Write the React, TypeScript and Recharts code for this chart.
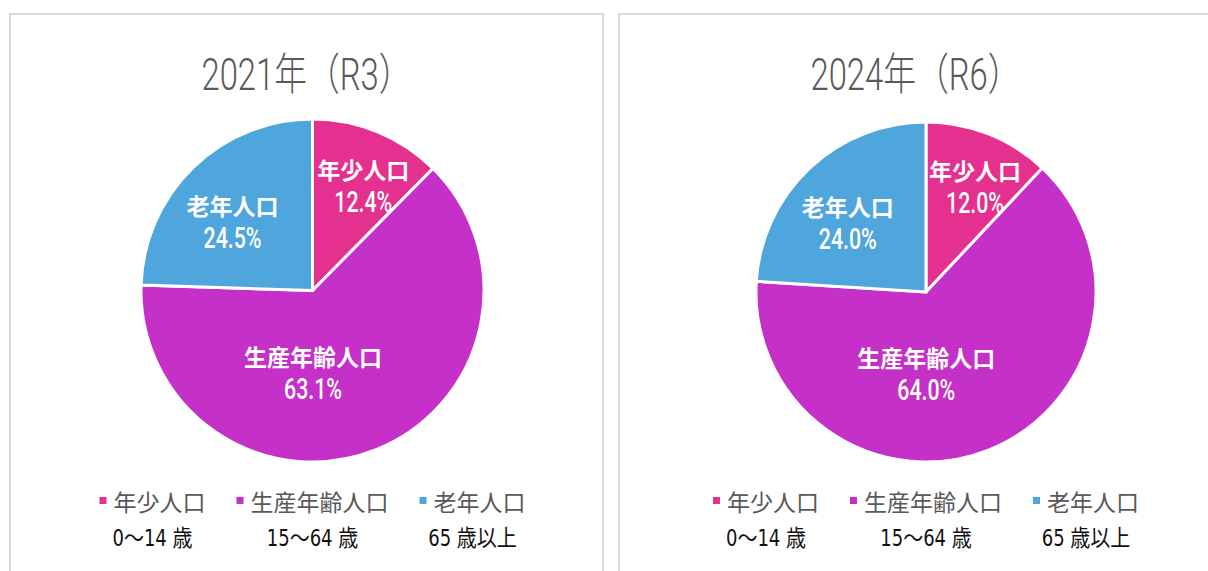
import React from 'react';
import { PieChart, Pie, Cell } from 'recharts';

// ---- data ----
const categories = ['年少人口', '生産年齢人口', '老年人口'];
const ageRanges = ['0～14 歳', '15～64 歳', '65 歳以上'];
const titles = ['2021年（R3）', '2024年（R6）'];
const values2021 = [12.4, 63.1, 24.5];
const values2024 = [12.0, 64.0, 24.0];

// ---- style ----
const colors = ['#E4308E', '#C430C8', '#4FA6DC'];
const CJK = '"Noto Sans CJK JP", "Noto Sans CJK SC", sans-serif';
const NARROW = '"Liberation Sans Narrow", "DejaVu Sans Condensed", "Noto Sans CJK JP", sans-serif';
const THIN = 'Roboto, "Noto Sans CJK JP", sans-serif';
const labelRadiusFrac = [0.68, 0.48, 0.615];
const labelAngleShift = [-3.5, -21.4, 5.2];
const RAD = Math.PI / 180;

const panels = [
  { title: titles[0], values: values2021, left: 9, cx: 312.5, cy: 290.5, r: 171.5 },
  { title: titles[1], values: values2024, left: 618, cx: 926, cy: 292, r: 170 },
];
const panelWidth = 595;

const buildData = (values: number[]) =>
  categories.map((name, i) => ({ name, value: values[i] }));

const renderLabel = (props: any) => {
  const { cx, cy, midAngle, outerRadius, index } = props;
  const name = props.payload?.name ?? props.name;
  const value = props.payload?.value ?? props.value;
  const a = (midAngle + labelAngleShift[index]) * RAD;
  const r = outerRadius * labelRadiusFrac[index];
  const x = cx + r * Math.cos(a);
  const y = cy - r * Math.sin(a);
  return (
    <g>
      <text x={x} y={y - 7} textAnchor="middle" fill="#fff" fontSize={23} fontWeight="bold" fontFamily={CJK}>
        {name}
      </text>
      <text
        x={x}
        y={y + 26}
        textAnchor="middle"
        fill="#fff"
        fontSize={30}
        fontWeight={500}
        fontFamily={THIN}
        textLength={58}
        lengthAdjust="spacingAndGlyphs"
      >
        {Number(value).toFixed(1)}%
      </text>
    </g>
  );
};

const LEG_FONT = 23;
const MARK = 7;
const MARK_GAP = 7;
const ITEM_GAP = 31;

function Legend2({ cx }: { cx: number }) {
  const widths = categories.map((c) => MARK + MARK_GAP + c.length * LEG_FONT);
  const total = widths.reduce((a, b) => a + b, 0) + ITEM_GAP * (categories.length - 1);
  let x = cx - total / 2;
  return (
    <g>
      {categories.map((c, i) => {
        const x0 = x;
        x += widths[i] + ITEM_GAP;
        return (
          <g key={c}>
            <rect x={x0} y={497} width={MARK} height={MARK} fill={colors[i]} />
            <text x={x0 + MARK + MARK_GAP} y={510.5} fontSize={LEG_FONT} fill="#595959" fontFamily={CJK}>
              {c}
            </text>
            <text
              transform={`translate(${x0 + widths[i] / 2}, 546) scale(0.87, 1)`}
              x={0}
              y={0}
              fontSize={23}
              fill="#111"
              fontFamily={NARROW}
              textAnchor="middle"
            >
              {ageRanges[i]}
            </text>
          </g>
        );
      })}
    </g>
  );
}

export default function App() {
  return (
    <div style={{ position: 'absolute', left: 0, top: 0, width: 1208, height: 571, overflow: 'hidden', background: '#fff' }}>
      {panels.map((p) => (
        <div
          key={p.title}
          style={{
            position: 'absolute',
            left: p.left,
            top: 13,
            width: panelWidth,
            height: 700,
            boxSizing: 'border-box',
            border: '2px solid #d9d9d9',
          }}
        />
      ))}
      <div style={{ position: 'absolute', left: 0, top: 0 }}>
        <PieChart width={1208} height={571} margin={{ top: 0, right: 0, bottom: 0, left: 0 }}>
          {panels.map((p, pi) => (
            <Pie
              key={pi}
              data={buildData(p.values)}
              dataKey="value"
              nameKey="name"
              cx={p.cx}
              cy={p.cy}
              outerRadius={p.r}
              startAngle={90}
              endAngle={-270}
              stroke="#fff"
              strokeWidth={3}
              isAnimationActive={false}
              label={renderLabel}
              labelLine={false}
            >
              {categories.map((c, i) => (
                <Cell key={c} fill={colors[i]} />
              ))}
            </Pie>
          ))}
        </PieChart>
      </div>
      <svg width={1208} height={571} style={{ position: 'absolute', left: 0, top: 0, pointerEvents: 'none' }}>
        {panels.map((p) => (
          <g key={p.title}>
            <text
              x={p.left + panelWidth / 2}
              y={90}
              textAnchor="middle"
              fontSize={44}
              fontWeight={300}
              fill="#5a5a5a"
              fontFamily={THIN}
              textLength={210}
              lengthAdjust="spacingAndGlyphs"
            >
              {p.title}
            </text>
            <Legend2 cx={p.cx} />
          </g>
        ))}
      </svg>
    </div>
  );
}
